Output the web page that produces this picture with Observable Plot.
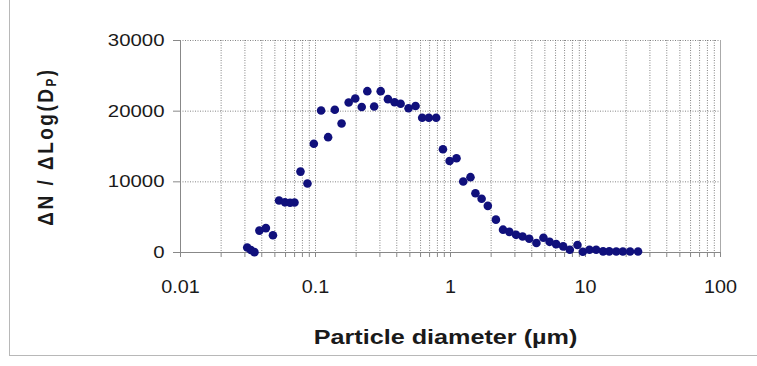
<!DOCTYPE html>
<html>
<head>
<meta charset="utf-8">
<script src="https://cdn.jsdelivr.net/npm/d3@7"></script>
<script src="https://cdn.jsdelivr.net/npm/@observablehq/plot@0.6"></script>
<style>
  html, body { margin: 0; padding: 0; background: #fff; }
  #wrap { position: relative; width: 757px; height: 366px; overflow: hidden; }
  #border { position: absolute; left: 9px; top: -2px; width: 760px; height: 357px;
            border-left: 1px solid #b8b8b8; border-bottom: 1px solid #b8b8b8; }
  #chart { position: absolute; left: 0; top: 0; }
</style>
</head>
<body>
<div id="wrap"><div id="border"></div><div id="chart"></div></div>
<script>
// Particle diameter (µm)
const diameters = [0.0312, 0.0332, 0.0353, 0.0384, 0.0429, 0.0484, 0.0537, 0.0594, 0.0648, 0.0699,
  0.0774, 0.0872, 0.0972, 0.110, 0.124, 0.139, 0.156, 0.176, 0.197, 0.220,
  0.242, 0.272, 0.304, 0.344, 0.385, 0.427, 0.489, 0.551, 0.617, 0.691,
  0.783, 0.879, 0.985, 1.108, 1.242, 1.406, 1.53, 1.70, 1.89, 2.17,
  2.45, 2.73, 3.06, 3.42, 3.83, 4.33, 4.88, 5.42, 6.06, 6.83,
  7.65, 8.72, 9.55, 10.7, 12.0, 13.5, 15.0, 16.9, 18.9, 21.4, 24.5];
// dN / dlog(Dp)
const counts = [700, 350, 50, 3100, 3450, 2450, 7350, 7100, 7030, 7080,
  11450, 9760, 15380, 20100, 16320, 20190, 18250, 21220, 21790, 20600,
  22830, 20660, 22830, 21700, 21270, 21040, 20420, 20730, 19060, 19060,
  19060, 14620, 12950, 13340, 10050, 10660, 8390, 7600, 6600, 4650,
  3230, 2920, 2500, 2260, 1940, 1350, 2080, 1510, 1180, 870,
  380, 1060, 110, 380, 380, 160, 160, 140, 140, 140, 140];

const xMajorTicks = [0.01, 0.1, 1, 10, 100];
const xMajorLabels = ["0.01", "0.1", "1", "10", "100"];
const yTicks = [0, 10000, 20000, 30000];
const xTitle = "Particle diameter (\u00b5m)";
const yTitle = "\u0394N / \u0394Log(D";

const data = diameters.map((d, i) => ({d, n: counts[i]}));
const xAllTicks = [];
xMajorTicks.slice(0, -1).forEach(m => { for (let k = 1; k <= 9; k++) xAllTicks.push(+(m * k).toPrecision(6)); });
xAllTicks.push(100);
const labelFor = v => {
  const i = xMajorTicks.findIndex(m => Math.abs(Math.log10(m) - Math.log10(v)) < 1e-9);
  return i >= 0 ? xMajorLabels[i] : "";
};

const chart = Plot.plot({
  width: 757,
  height: 366,
  marginLeft: 180,
  marginRight: 37,
  marginTop: 40,
  marginBottom: 114,
  style: {fontFamily: "'Liberation Sans', Arial, sans-serif", fontSize: "16px", color: "#1a1a1a", background: "transparent"},
  x: {type: "log", domain: [0.01, 100]},
  y: {domain: [0, 30000]},
  marks: [
    Plot.gridX(xAllTicks, {stroke: "#666", strokeOpacity: 0.8, strokeDasharray: "1,1.5"}),
    Plot.gridY(yTicks.slice(1), {stroke: "#666", strokeOpacity: 0.8, strokeDasharray: "1,1.5"}),
    Plot.ruleX([100], {stroke: "#aaa"}),
    Plot.ruleX([0.01], {stroke: "#888"}),
    Plot.ruleY([0], {stroke: "#888"}),
    Plot.axisY({ticks: yTicks, tickSize: 7, tickPadding: 9, tickFormat: d3.format("d"), label: null, stroke: "#888", fill: "#1a1a1a", fontSize: 17, className: "ylab"}),
    Plot.axisX({ticks: xAllTicks, tickSize: 5, tickPadding: 23, tickFormat: labelFor, label: null, stroke: "#888", fill: "#1a1a1a", fontSize: 18, className: "xlab"}),
    Plot.dot(data, {x: "d", y: "n", r: 4.3, fill: "#10107c"}),
    Plot.text([xTitle], {frameAnchor: "bottom", dy: 91, dx: -5, fontWeight: "bold", fontSize: 21, fill: "#1a1a1a"}),
    Plot.text([yTitle], {frameAnchor: "left", textAnchor: "middle", dx: -135, rotate: -90, fontWeight: "bold", fontSize: 19, fill: "#1a1a1a"})
  ]
});
document.getElementById("chart").appendChild(chart);

// subscript P in the y title
d3.select(chart).selectAll("text").each(function() {
  if (this.textContent === yTitle) {
    const t = d3.select(this);
    t.attr("letter-spacing", "2.5px");
    t.append("tspan").attr("font-size", "0.62em").attr("dy", "0.2em").text("P");
    t.append("tspan").attr("dy", "-0.12em").text(")");
    this.setAttribute("data-rot", "1");
  }
});

// horizontal widening of text to match the reference's wide lettering
chart.querySelectorAll("text").forEach(el => {
  if (!el.textContent) return;
  const b = el.getBBox();
  const tr = el.getAttribute("transform") || "";
  if (el.getAttribute("data-rot")) {
    const cy = b.y + b.height / 2;
    el.setAttribute("transform", `${tr} translate(0,${cy}) scale(1,1.2) translate(0,${-cy})`);
  } else {
    const S = el.closest(".xlab") ? 1.1 : 1.2;
    const anchor = getComputedStyle(el).textAnchor;
    const cx = anchor === "end" ? b.x + b.width : anchor === "middle" ? b.x + b.width / 2 : b.x;
    el.setAttribute("transform", `${tr} translate(${cx},0) scale(${S},1) translate(${-cx},0)`);
  }
});
</script>
</body>
</html>
